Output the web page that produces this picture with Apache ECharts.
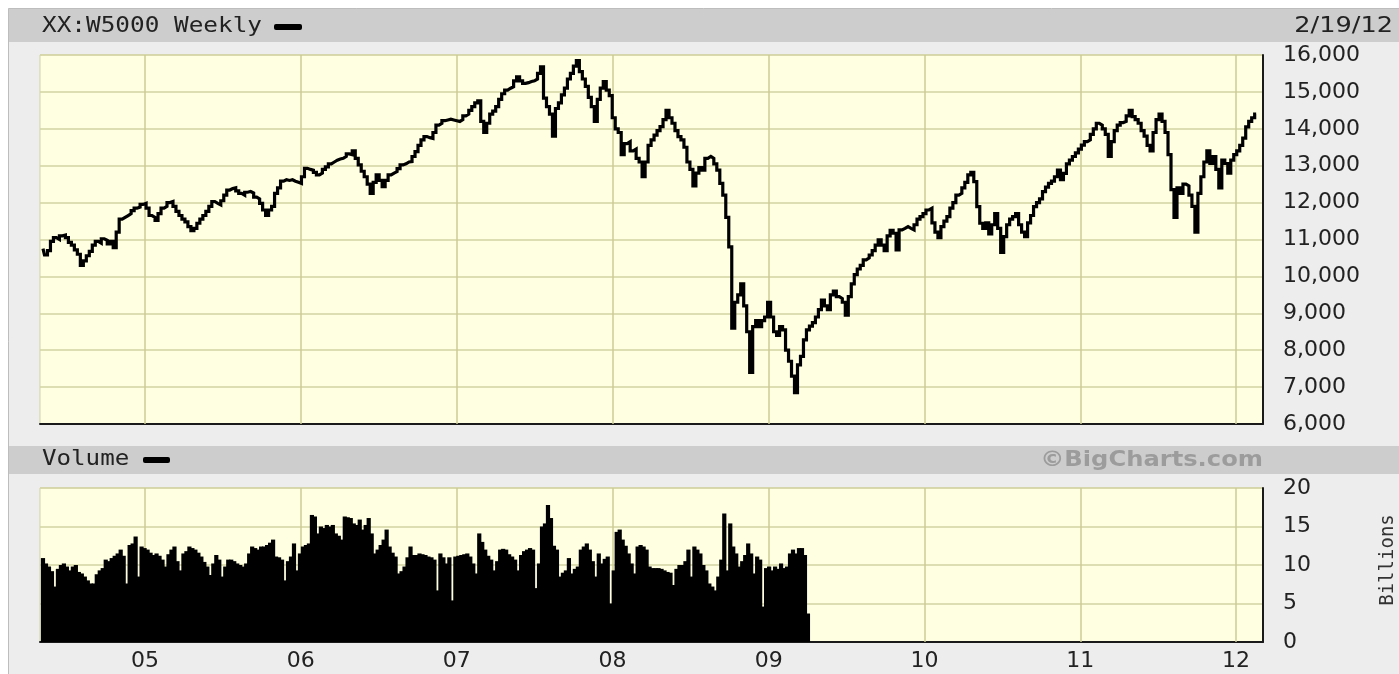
<!DOCTYPE html>
<html><head><meta charset="utf-8">
<script src="https://cdn.jsdelivr.net/npm/echarts@6/dist/echarts.min.js"></script>
<style>html,body{margin:0;padding:0;background:#fff}#c{width:1399px;height:674px}</style>
</head><body><div id="c"></div>
<script>
// ---- Data: weekly closes of XX:W5000, one array per calendar year (first Friday listed separately)
const yearStarts = ['2004-05-07','2005-01-07','2006-01-06','2007-01-05','2008-01-04','2009-01-02','2010-01-01','2011-01-07','2012-01-06'];
const price2004 = [10750,10580,10700,10950,11050,11000,11100,11120,11050,10920,10850,10720,10600,10300,10420,10560,10680,10850,10950,10900,11020,10980,10880,10950,10780,11200,11550,11600,11650,11700,11780,11850,11880,11950,11980];
const price2005 = [11850,11650,11600,11520,11700,11850,11900,12000,12030,11900,11760,11650,11550,11480,11350,11240,11300,11440,11550,11650,11760,11900,12030,11980,11940,12050,12200,12340,12380,12400,12320,12250,12200,12280,12300,12260,12150,12100,11980,11800,11650,11800,11900,12250,12400,12580,12620,12600,12620,12580,12550,12520];
const price2006 = [12700,12930,12900,12880,12820,12750,12800,12900,12970,13050,13100,13150,13180,13200,13250,13320,13300,13400,13200,13020,12850,12700,12500,12250,12550,12750,12600,12430,12600,12750,12800,12840,12920,13020,13050,13100,13110,13250,13380,13550,13700,13790,13760,13740,13900,14100,14150,14220,14240,14260,14240,14220];
const price2007 = [14200,14250,14350,14400,14500,14600,14700,14760,14200,13900,14150,14400,14480,14600,14800,14950,15050,15100,15140,15300,15410,15300,15230,15250,15280,15300,15350,15500,15680,14830,14600,14400,13800,14550,14700,14920,15100,15350,15500,15700,15850,15550,15350,15150,14850,14600,14200,14800,15100,15280,15050,14900];
const price2008 = [14300,14000,13900,13300,13600,13650,13400,13450,13200,13100,12700,13100,13550,13700,13830,13950,14060,14250,14500,14300,14150,13950,13790,13700,13500,13100,12900,12450,12800,12950,12880,13200,13250,13200,13050,12880,12520,12200,11600,10800,8600,9300,9500,9800,9200,8500,7400,8640,8800,8640,8800,8900];
const price2009 = [9300,8900,8500,8400,8640,8550,8000,7700,7300,6850,7600,7830,8280,8550,8650,8750,8900,9100,9360,9200,9100,9500,9600,9450,9400,9300,8950,9450,9800,10050,10200,10300,10450,10500,10580,10700,10850,10990,10850,10700,11100,11250,11170,10720,11260,11300,11350,11300,11260,11400,11550,11620];
const price2010 = [11700,11800,11845,11450,11200,11050,11350,11500,11620,11850,12000,12200,12250,12400,12550,12750,12820,12570,11890,11440,11300,11450,11150,11400,11700,11300,10650,11080,11400,11550,11620,11700,11400,11200,11080,11450,11650,11890,12000,12100,12300,12420,12520,12580,12700,12880,12620,12790,13050,13150,13250,13350,13450];
const price2011 = [13560,13650,13700,13850,14000,14150,14100,14000,13850,13250,13650,13950,14100,14170,14200,14350,14500,14330,14250,14150,13950,13800,13550,13400,13900,14250,14400,14200,13900,13300,12350,11600,12400,12250,12500,12450,12200,11900,11200,12250,12700,13100,13400,13065,13245,12900,12400,13150,13060,12800,13150,13300];
const price2012 = [13400,13550,13750,14050,14200,14300,14400];

// weekly volume, billions (ends spring 2009)
const vol2004 = [10.9,10.2,9.8,9.2,7.2,9.5,10,10.2,9.8,9.3,9.8,10,9.1,8.9,8.5,8.0,7.6,7.6,8.8,9.3,9.6,10.7,10.5,10.9,11.2,11.5,12,11.2,7.6,12.6,12.8,13.7,8.5,12.4,12.2];
const vol2005 = [12,11.6,11.3,11.5,11.2,10.7,9.8,11.4,12,12.4,10.5,9.3,11.5,11.8,12.4,12.2,12,11.6,11.1,10.4,9.8,8.7,10.2,11.3,10.7,8.5,9.8,10.7,10.7,10.5,10.2,10,9.8,10.2,11.5,12.4,12.2,12,12.4,12.4,12.6,12.9,13.3,11.1,11,10.7,8,10.5,11.1,12.8,9.3,11.5];
const vol2006 = [12.4,12.6,12.8,16.5,16.3,14.1,15,14.8,15.2,15,15.2,14.1,13.8,13.3,16.3,16.2,16.1,15.4,15.2,15.9,14.6,15.2,16.1,14.1,11.5,12,12.6,13.3,14.6,12.4,11.6,11.1,8.9,9.2,9.8,11,12.4,11.3,11.3,11.5,11.4,11.3,11.1,11,10.7,6.7,11.5,11,10.2,11,5.4,11.1];
const vol2007 = [11.2,11.3,11.4,11.5,11.1,10.2,8.9,14.1,13,12,11.2,10.7,9.3,10.5,12,12.1,12,11.4,11.1,10.7,9.3,11.3,11.8,12,12.2,12,7,10.2,15,15.4,17.8,16.1,12.5,12,8.5,9,9.3,10.9,8.9,9.5,9.8,12,12.4,12.8,12,10.5,8.5,11.5,10.2,10.8,11.1,5];
const vol2008 = [9.3,14.3,14.6,13.3,12.5,11.5,10.2,8.9,12.4,12.6,12.4,12,9.8,9.6,9.6,9.6,9.5,9.3,9.1,9,7.4,9.5,10,10,10.5,12,8.5,12.4,12,11.5,10,9.3,7.6,7.2,6.7,8.5,10.7,16.7,9.3,15.4,12.4,11.5,9.8,10.5,11.3,12.8,11.5,8.9,11.1,10.7,4.6,9.6];
const vol2009 = [9.8,9.3,9.8,9.5,10.2,9.6,9.8,11.5,12,11.5,12.2,12.2,11.3,3.7];

const yearTickLabels = ['05','06','07','08','09','10','11','12'];
const priceTicks = [6000,7000,8000,9000,10000,11000,12000,13000,14000,15000,16000];
const volumeTicks = [0,5,10,15,20];

// ---- build [date, value] pairs
function weekly(startStr, values) {
  const p = startStr.split('-').map(Number);
  return values.map((v, i) => [new Date(p[0], p[1] - 1, p[2] + 7 * i).getTime(), v]);
}
const priceYears = [price2004, price2005, price2006, price2007, price2008, price2009, price2010, price2011, price2012];
const volYears = [vol2004, vol2005, vol2006, vol2007, vol2008, vol2009];
let priceData = [], volData = [];
priceYears.forEach((arr, k) => { priceData = priceData.concat(weekly(yearStarts[k], arr)); });
volYears.forEach((arr, k) => { volData = volData.concat(weekly(yearStarts[k], arr)); });
const yearTicks = yearTickLabels.map(s => new Date(2000 + Number(s), 0, 1).getTime());

const xMin = new Date(2004, 3, 30).getTime();
const xMax = new Date(2012, 2, 4).getTime();
const gridColor = '#d3d3a3';
const vGridColor = '#cbcb95';
const labelFont = 'DejaVu Sans';

const yearLines = {
  silent: true, symbol: ['none', 'none'], animation: false, z: 1,
  label: { show: false },
  lineStyle: { color: vGridColor, width: 1.5, type: 'solid' },
  emphasis: { disabled: true },
  data: yearTicks.map(t => ({ xAxis: t }))
};

const chart = echarts.init(document.getElementById('c'), null, { renderer: 'canvas' });
const xCommon = (gi, showLabels) => ({
  type: 'value', gridIndex: gi, min: xMin, max: xMax, scale: true,
  axisLine: { show: true, onZero: false, lineStyle: { color: '#1a1a1a', width: 2 } },
  axisTick: { show: false, customValues: yearTicks },
  axisLabel: {
    show: showLabels, customValues: yearTicks, margin: 8, fontSize: 22, fontFamily: labelFont, color: '#222',
    formatter: v => String(new Date(v).getFullYear()).slice(2)
  },
  splitLine: { show: false }
});
chart.setOption({
  animation: false,
  backgroundColor: '#ededed',
  grid: [
    { left: 40, top: 55, width: 1223, height: 369, show: true, backgroundColor: '#ffffe2', borderColor: gridColor, borderWidth: 1 },
    { left: 40, top: 488, width: 1223, height: 154, show: true, backgroundColor: '#ffffe2', borderColor: gridColor, borderWidth: 1 }
  ],
  xAxis: [xCommon(0, false), xCommon(1, true)],
  yAxis: [
    { type: 'value', gridIndex: 0, position: 'right', min: priceTicks[0], max: priceTicks[priceTicks.length - 1], interval: 1000,
      axisLine: { show: true, lineStyle: { color: '#1a1a1a', width: 2 } }, axisTick: { show: false },
      axisLabel: { margin: 20, fontSize: 22, fontFamily: labelFont, color: '#222', formatter: v => v.toLocaleString('en-US') },
      splitLine: { show: true, lineStyle: { color: gridColor, width: 1.5 } } },
    { type: 'value', gridIndex: 1, position: 'right', min: volumeTicks[0], max: volumeTicks[volumeTicks.length - 1], interval: 5,
      axisLine: { show: true, lineStyle: { color: '#1a1a1a', width: 2 } }, axisTick: { show: false },
      axisLabel: { margin: 20, fontSize: 22, fontFamily: labelFont, color: '#222' },
      splitLine: { show: true, lineStyle: { color: gridColor, width: 1.5 } } }
  ],
  series: [
    // year gridlines (drawn beneath the marks)
    { type: 'line', xAxisIndex: 0, yAxisIndex: 0, data: [], z: 1, silent: true, markLine: yearLines },
    { type: 'line', xAxisIndex: 1, yAxisIndex: 1, data: [], z: 1, silent: true, markLine: yearLines },
    { type: 'line', xAxisIndex: 0, yAxisIndex: 0, data: priceData, showSymbol: false, symbol: 'none', step: 'middle',
      lineStyle: { color: '#000', width: 3.2, join: 'miter' }, itemStyle: { color: '#000' }, z: 3 },
    { type: 'bar', xAxisIndex: 1, yAxisIndex: 1, data: volData, barWidth: 4.2,
      itemStyle: { color: '#000' }, z: 3 }
  ],
  graphic: [
    { type: 'rect', shape: { x: 0, y: 0, width: 1399, height: 8 }, style: { fill: '#fff' }, silent: true },
    { type: 'rect', shape: { x: 0, y: 0, width: 8, height: 674 }, style: { fill: '#fff' }, silent: true },
    { type: 'polyline', shape: { points: [[8.5, 674], [8.5, 8.5], [1399, 8.5]] }, style: { stroke: '#bdbdbd', lineWidth: 1, fill: null }, silent: true },
    { type: 'rect', shape: { x: 9, y: 9, width: 1390, height: 33 }, style: { fill: '#cdcdcd' }, silent: true },
    { type: 'rect', shape: { x: 9, y: 446, width: 1390, height: 28 }, style: { fill: '#cdcdcd' }, silent: true },
    { type: 'text', x: 42, y: 27, scaleX: 1.16, style: { text: 'XX:W5000 Weekly', font: '21px "DejaVu Sans Mono"', fill: '#222', align: 'left', verticalAlign: 'middle' } },
    { type: 'rect', shape: { x: 274, y: 24, width: 28, height: 6, r: 2 }, style: { fill: '#000' } },
    { type: 'text', x: 1393, y: 27, scaleX: 1.22, style: { text: '2/19/12', font: '21px "DejaVu Sans"', fill: '#222', align: 'right', verticalAlign: 'middle' } },
    { type: 'text', x: 42, y: 460, scaleX: 1.15, style: { text: 'Volume', font: '21px "DejaVu Sans Mono"', fill: '#222', align: 'left', verticalAlign: 'middle' } },
    { type: 'rect', shape: { x: 143, y: 457, width: 27, height: 6, r: 2 }, style: { fill: '#000' } },
    { type: 'text', x: 1263, y: 460, scaleX: 1.1, style: { text: '©BigCharts.com', font: 'bold 22px "DejaVu Sans"', fill: '#9c9c9c', align: 'right', verticalAlign: 'middle' } },
    { type: 'text', x: 1388, y: 560, rotation: Math.PI / 2, style: { text: 'Billions', font: '19px "DejaVu Sans Mono"', fill: '#333', align: 'center', verticalAlign: 'middle' } }
  ]
});
</script>
</body></html>
